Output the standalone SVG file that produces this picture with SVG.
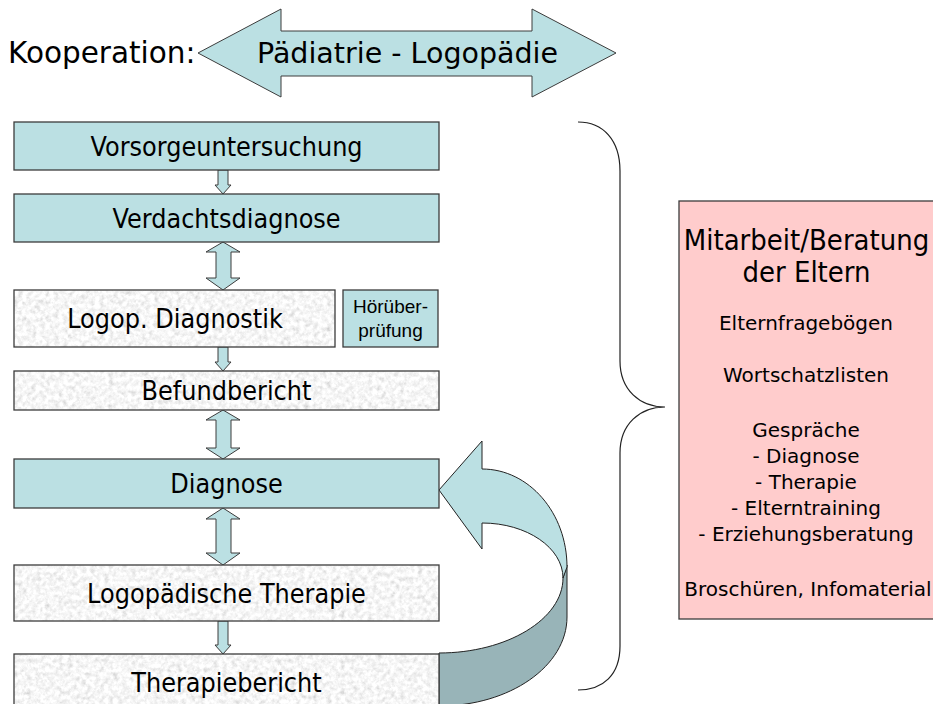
<svg xmlns="http://www.w3.org/2000/svg" width="933" height="704" viewBox="0 0 933 704">
<style>
.box{fill:#bbe0e3;stroke:#3c3c3c;stroke-width:1.3}
.gbox{stroke:#3c3c3c;stroke-width:1.3;fill:none}
.arr{fill:#bbe0e3;stroke:#3c3c3c;stroke-width:1}
.t{font-family:"DejaVu Sans",sans-serif;fill:#000;text-anchor:middle}
.bt{font-size:27px}
.pt{font-size:20px}
.h{font-family:"Liberation Sans",Arial,sans-serif;font-size:19px;text-anchor:middle}
</style>
<defs>
<filter id="grain" x="0" y="0" width="1" height="1" filterUnits="objectBoundingBox">
<feTurbulence type="fractalNoise" baseFrequency="0.22" numOctaves="4" seed="7" result="n"/>
<feColorMatrix in="n" type="matrix" values="0.33 0.33 0.33 0 0 0.33 0.33 0.33 0 0 0.33 0.33 0.33 0 0 0 0 0 0 1" result="g"/>
<feComponentTransfer in="g" result="c">
<feFuncR type="linear" slope="1.0" intercept="0.43"/>
<feFuncG type="linear" slope="1.0" intercept="0.43"/>
<feFuncB type="linear" slope="1.0" intercept="0.43"/>
</feComponentTransfer>
<feComposite in="c" in2="SourceGraphic" operator="in"/>
</filter>
</defs>
<rect width="933" height="704" fill="#fff"/>

<g id="kooperation">
<text class="t" x="8" y="63" style="text-anchor:start;font-size:29.5px">Kooperation:</text>
<path class="arr" d="M198,53 L281,9 L281,31 L532,31 L532,9 L616,53 L532,97 L532,76 L281,76 L281,97 Z"/>
<text class="t" x="407.5" y="63" style="font-size:28.5px">Pädiatrie - Logopädie</text>
</g>

<g id="connectors">
<path class="arr" d="M218,170 L228,170 L228,185 L231,185 L223,194 L215,185 L218,185 Z"/>
<path class="arr" d="M223,242 L240,252 L231,252 L231,278 L240,278 L223,290 L206,278 L216,278 L216,252 L206,252 Z"/>
<path class="arr" d="M218,347 L228,347 L228,362 L231,362 L223,371 L215,362 L218,362 Z"/>
<path class="arr" d="M223,410 L240,420 L231,420 L231,448 L240,448 L223,459 L206,448 L216,448 L216,420 L206,420 Z"/>
<path class="arr" d="M223,508 L240,519 L231,519 L231,553 L240,553 L223,565 L206,553 L216,553 L216,519 L206,519 Z"/>
<path class="arr" d="M218,621 L228,621 L228,645 L231,645 L223,654 L215,645 L218,645 Z"/>
<path d="M563,578 C563,619 507,653 439,653 L439,706 C510,706 567,666 567,617 L567,565 Z" fill="#98b4b8" stroke="#222" stroke-width="1"/>
<path d="M439,490 L482,441 L482,469 C529,469 567,513 567,567 L563,578 C563,548 527,523 482,523 L482,549 Z" fill="#bbe0e3" stroke="#222" stroke-width="1"/>
<path d="M578,122 C603,122 620,140 620,171 L620,361 C620,390 640,407 665,407 C640,407 620,424 620,453 L620,646 C620,675 603,690 578,690" fill="none" stroke="#222" stroke-width="1.2"/>
</g>

<g id="vorsorge">
<rect class="box" x="14" y="122" width="425" height="48"/>
<text class="t bt" transform="translate(226.5,156) scale(0.89,1)">Vorsorgeuntersuchung</text>
</g>
<g id="verdacht">
<rect class="box" x="14" y="194" width="425" height="48"/>
<text class="t bt" transform="translate(226.5,228) scale(0.89,1)">Verdachtsdiagnose</text>
</g>
<g id="logopdiag">
<rect x="14" y="290" width="321" height="57" fill="#fff" filter="url(#grain)"/>
<rect class="gbox" x="14" y="290" width="321" height="57"/>
<text class="t bt" transform="translate(175,328) scale(0.89,1)">Logop. Diagnostik</text>
</g>
<g id="hoer">
<rect class="box" x="343" y="290" width="95" height="57"/>
<text class="h" x="390.5" y="313">Hörüber-</text>
<text class="h" x="390.5" y="337">prüfung</text>
</g>
<g id="befund">
<rect x="14" y="371" width="425" height="39" fill="#fff" filter="url(#grain)"/>
<rect class="gbox" x="14" y="371" width="425" height="39"/>
<text class="t bt" transform="translate(226.5,400) scale(0.89,1)">Befundbericht</text>
</g>
<g id="diagnose">
<rect class="box" x="14" y="459" width="425" height="49"/>
<text class="t bt" transform="translate(226.5,493) scale(0.89,1)">Diagnose</text>
</g>
<g id="therapie">
<rect x="14" y="565" width="425" height="56" fill="#fff" filter="url(#grain)"/>
<rect class="gbox" x="14" y="565" width="425" height="56"/>
<text class="t bt" transform="translate(226.5,603) scale(0.89,1)">Logopädische Therapie</text>
</g>
<g id="therapiebericht">
<rect x="14" y="654" width="425" height="56" fill="#fff" filter="url(#grain)"/>
<rect class="gbox" x="14" y="654" width="425" height="56"/>
<text class="t bt" transform="translate(226.5,692) scale(0.89,1)">Therapiebericht</text>
</g>

<g id="eltern">
<rect x="679" y="201" width="270" height="418" fill="#ffcccc" stroke="#3c3c3c" stroke-width="1.3"/>
<text class="t" transform="translate(806.5,250) scale(0.93,1)" style="font-size:28px">Mitarbeit/Beratung</text>
<text class="t" transform="translate(806.5,282) scale(0.93,1)" style="font-size:28px">der Eltern</text>
<text class="t pt" x="806" y="330">Elternfragebögen</text>
<text class="t pt" x="806" y="382">Wortschatzlisten</text>
<text class="t pt" x="806" y="437">Gespräche</text>
<text class="t pt" x="806" y="463">- Diagnose</text>
<text class="t pt" x="806" y="489">- Therapie</text>
<text class="t pt" x="806" y="515">- Elterntraining</text>
<text class="t pt" x="806" y="541">- Erziehungsberatung</text>
<text class="t pt" x="808" y="596">Broschüren, Infomaterial</text>
</g>
</svg>
